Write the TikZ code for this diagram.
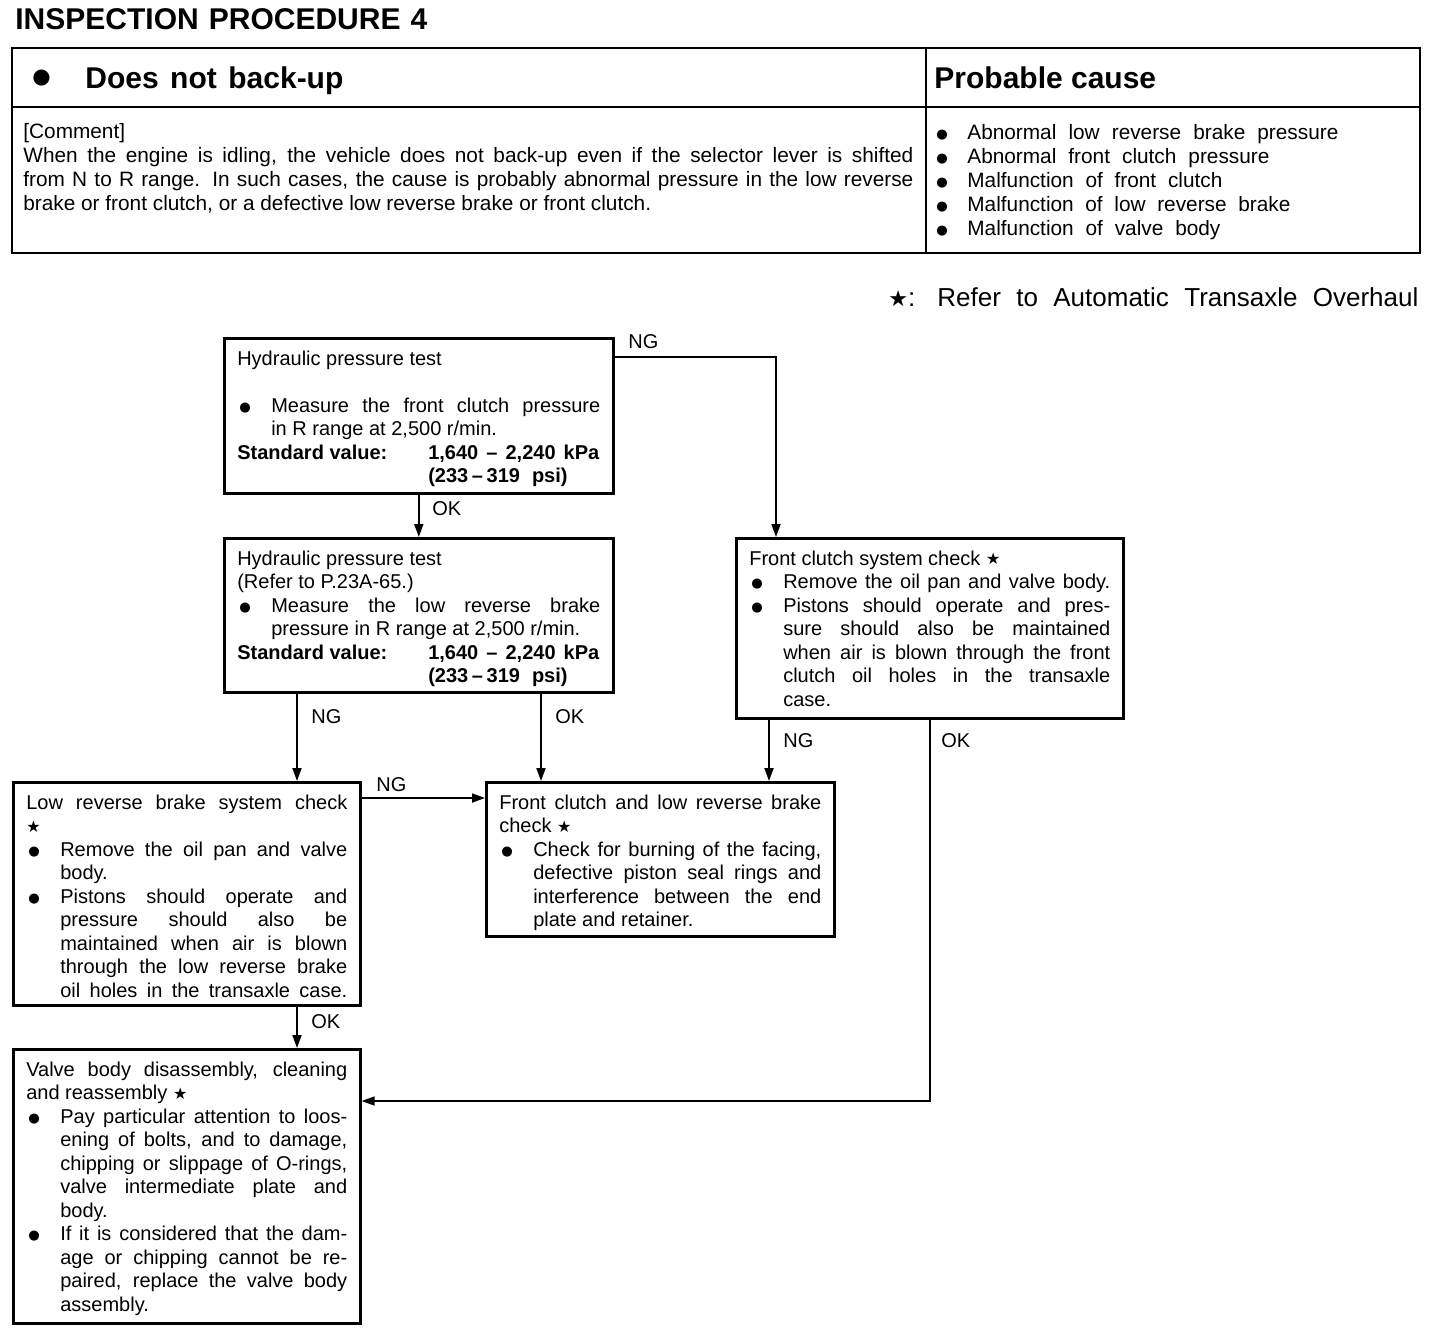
\documentclass[tikz,border=0pt]{standalone}
\usepackage{fontspec}
\setmainfont{Liberation Sans}
\newfontfamily\symfont{DejaVu Sans}
\usetikzlibrary{arrows.meta}

\newcommand{\blt}{\raisebox{0.5pt}{\symfont\fontsize{6.6}{7}\selectfont ●}}
\newcommand{\bigblt}{\raisebox{2.2pt}{\symfont\fontsize{10.5}{11}\selectfont ●}}
\newcommand{\str}{\raisebox{0.3pt}{\symfont\fontsize{8}{8}\selectfont ★}}
\newcommand{\itm}{\par\noindent\hangindent=17pt\hangafter=1\makebox[17pt][l]{\hspace{1pt}\blt}}
\newcommand{\cau}[2]{\makebox[16.5pt][l]{\hspace{1pt}\blt}\makebox[#1][s]{#2}}
\newcommand{\fullpar}{{\parfillskip=0pt\par}}
\newcommand{\boxfont}{\fontsize{10}{11.75}\selectfont}
\newcommand{\tblfont}{\fontsize{10.4}{12.1}\selectfont}
\newcommand{\bxtext}[3]{\parbox[t][#2][t]{#1}{\rule{0pt}{13.5pt}#3}}
\newcommand{\std}{\par\noindent\textbf{\makebox[95.5pt][l]{Standard value:}\makebox[85.5pt][s]{1,640 – 2,240 kPa}}%
  \par\noindent\hspace*{95.5pt}\textbf{(233\hspace{1.8pt}–\hspace{1.8pt}319\hspace{6pt}psi)}}

\tikzset{
  chkbox/.style={draw, line width=1.3pt, inner xsep=6.5pt, inner ysep=0pt, anchor=north west, font=\boxfont},
  flow/.style={line width=0.9pt, -{Triangle[width=4.5pt,length=6.5pt]}},
  lbl/.style={anchor=west, inner sep=0pt, font=\boxfont},
  tbl/.style={line width=1.4pt},
  head/.style={anchor=base west, inner sep=0pt, font=\bfseries\fontsize{15}{18}\selectfont}
}

\begin{document}
\begin{tikzpicture}[x=0.5pt,y=-0.5pt]
\useasboundingbox (0,0) rectangle (1440,1330);

\node[head] (title) at (15,29) {\makebox[206pt][s]{INSPECTION PROCEDURE 4}};

\draw[tbl] (12,48) rectangle (1420,253);
\draw[tbl] (12,107) -- (1420,107);
\draw[tbl] (926,48) -- (926,253);
\node[head] (symp) at (32,88) {\makebox[26.5pt][l]{\bigblt}\makebox[129pt][s]{Does not back-up}};
\node[head] (cause) at (934,88) {Probable cause};
\node[anchor=base west, inner sep=0pt, font=\tblfont] (cmt) at (23,138) {\parbox[t]{445pt}{[Comment]\par
  When the engine is idling, the vehicle does not back-up even if the selector lever is shifted\linebreak
  from N to R range. In such cases, the cause is probably abnormal pressure in the low reverse\linebreak
  brake or front clutch, or a defective low reverse brake or front clutch.}};
\node[anchor=base west, inner sep=0pt, font=\tblfont] (causes) at (934,139) {\parbox[t]{243pt}{%
  \cau{185.5pt}{Abnormal low reverse brake pressure}\par
  \cau{151pt}{Abnormal front clutch pressure}\par
  \cau{127.5pt}{Malfunction of front clutch}\par
  \cau{161.5pt}{Malfunction of low reverse brake}\par
  \cau{126.5pt}{Malfunction of valve body}}};

\node[anchor=base west, inner sep=0pt, font=\fontsize{13}{15}\selectfont] (note) at (888,306)
  {\makebox[24.5pt][l]{{\symfont\fontsize{11}{11}\selectfont ★}:}\makebox[240.5pt][s]{Refer to Automatic Transaxle Overhaul}};

\node[chkbox] (hpt1) at (223,337) {\bxtext{181.5pt}{77.5pt}{Hydraulic pressure test\par\mbox{}
  \itm Measure the front clutch pressure\linebreak in R range at 2,500 r/min.
  \std}};
\node[chkbox] (hpt2) at (223,537) {\bxtext{181.5pt}{77pt}{Hydraulic pressure test\par
  (Refer to P.23A-65.)
  \itm Measure the low reverse brake\linebreak pressure in R range at 2,500 r/min.
  \std}};
\node[chkbox] (fcs) at (735,537) {\bxtext{180.5pt}{90pt}{Front clutch system check \str
  \itm Remove the oil pan and valve body.\fullpar
  \itm Pistons should operate and pres-\linebreak sure should also be maintained\linebreak
  when air is blown through the front\linebreak clutch oil holes in the transaxle\linebreak case.}};
\node[chkbox] (lrb) at (12,781) {\bxtext{160.5pt}{111.5pt}{Low reverse brake system check\linebreak \str
  \itm Remove the oil pan and valve\linebreak body.
  \itm Pistons should operate and\linebreak pressure should also be\linebreak
  maintained when air is blown\linebreak through the low reverse brake\linebreak
  oil holes in the transaxle case.\fullpar}};
\node[chkbox] (fcl) at (485,781) {\bxtext{161pt}{77pt}{Front clutch and low reverse brake\linebreak check \str
  \itm Check for burning of the facing,\linebreak defective piston seal rings and\linebreak
  interference between the end\linebreak plate and retainer.}};
\node[chkbox] (vbd) at (12,1048) {\bxtext{160.5pt}{137pt}{Valve body disassembly, cleaning\linebreak and reassembly \str
  \itm Pay particular attention to loos-\linebreak ening of bolts, and to damage,\linebreak
  chipping or slippage of O-rings,\linebreak valve intermediate plate and\linebreak body.
  \itm If it is considered that the dam-\linebreak age or chipping cannot be re-\linebreak
  paired, replace the valve body\linebreak assembly.}};

\coordinate (ya) at (0,357);
\coordinate (xb) at (776,0);
\coordinate (xc) at (297,0);
\coordinate (xd) at (541,0);
\coordinate (xe) at (769,0);
\coordinate (yf) at (0,1101);
\coordinate (yg) at (0,798);

\draw[flow] (hpt1.east |- ya) -| (fcs.north -| xb);
\draw[flow] (hpt1.south) -- (hpt2.north);
\draw[flow] (hpt2.south -| xc) -- (lrb.north -| xc);
\draw[flow] (hpt2.south -| xd) -- (fcl.north -| xd);
\draw[flow] (fcs.south -| xe) -- (fcl.north -| xe);
\draw[flow] (fcs.south) |- (vbd.east |- yf);
\draw[flow] (lrb.east |- yg) -- (fcl.west |- yg);
\draw[flow] (lrb.south -| xc) -- (vbd.north -| xc);

\node[lbl] (ng1) at (628,342) {NG};
\node[lbl] (ok1) at (432,509) {OK};
\node[lbl] (ng2) at (311,717) {NG};
\node[lbl] (ok2) at (555,717) {OK};
\node[lbl] (ng3) at (783,741) {NG};
\node[lbl] (ok3) at (941,741) {OK};
\node[lbl] (ng4) at (376,785) {NG};
\node[lbl] (ok4) at (311,1022) {OK};
\end{tikzpicture}
\end{document}
